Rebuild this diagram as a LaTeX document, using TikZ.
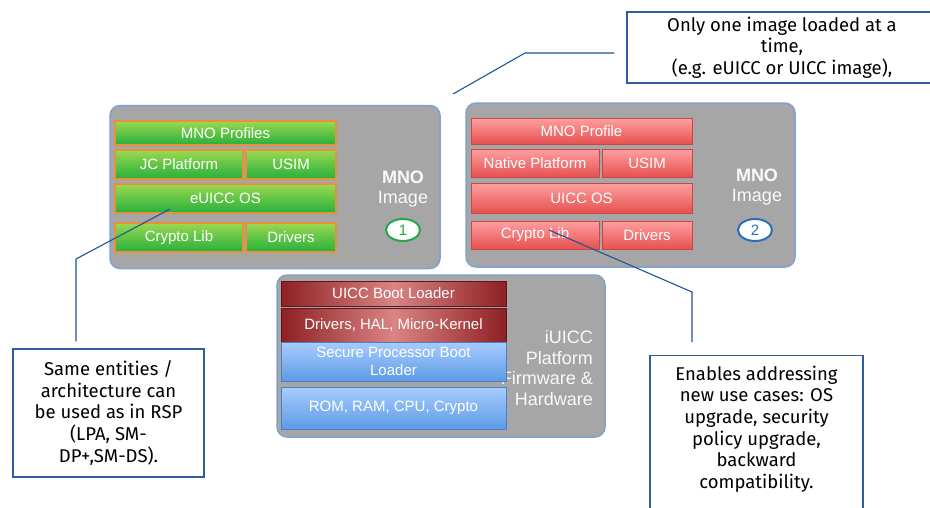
\documentclass[tikz,border=0pt]{standalone}
\usepackage{fontspec}
\setmainfont{Liberation Sans}
\newfontfamily\notefont{Fira Sans}
\usetikzlibrary{positioning,shapes.geometric}

\definecolor{panelgray}{HTML}{A6A6A6}
\definecolor{panelrim}{HTML}{7FA3D0}
\definecolor{greentop}{HTML}{9CD850}
\definecolor{greenbot}{HTML}{25B03C}
\definecolor{greenrim}{HTML}{E8903A}
\definecolor{redtop}{HTML}{FFA0A0}
\definecolor{redbot}{HTML}{E65050}
\definecolor{redrim}{HTML}{C84848}
\definecolor{darkred}{HTML}{8E2024}
\definecolor{midred}{HTML}{DA8484}
\definecolor{bluetop}{HTML}{A9CCFF}
\definecolor{bluebot}{HTML}{5C9BE6}
\definecolor{bluerim}{HTML}{4A80C8}
\definecolor{noterim}{HTML}{2E5C9E}
\definecolor{noteline}{HTML}{1F5596}
\definecolor{one}{HTML}{22A848}
\definecolor{two}{HTML}{2A6EBB}

\tikzset{
  panel/.style={draw=panelrim, line width=1.5pt, fill=panelgray, rounded corners=10pt, inner sep=0pt},
  layer/.style={inner sep=0pt, text=white, font=\fontsize{15}{16}\selectfont},
  greenlayer/.style={layer, draw=greenrim, line width=1.2pt, top color=greentop, bottom color=greenbot},
  redlayer/.style={layer, draw=redrim, line width=0.8pt, top color=redtop, bottom color=redbot},
  darklayer/.style={layer, draw=darkred!70!black, line width=0.6pt, left color=darkred, right color=darkred,
    middle color=midred},
  bluelayer/.style={layer, draw=bluerim, line width=0.8pt, top color=bluetop, bottom color=bluebot, align=center,
    font=\fontsize{15}{18}\selectfont},
  tag/.style={text=white!95!gray, font=\fontsize{18}{20}\selectfont, inner sep=0pt},
  badge/.style={ellipse, draw, line width=2pt, fill=white, minimum width=34pt, minimum height=22pt, inner sep=0pt,
    font=\fontsize{15}{15}\selectfont},
  note/.style={draw=noterim, line width=1.2pt, fill=white, align=center, inner sep=0pt,
    font=\notefont\fontsize{18.5}{21.7}\selectfont},
  callout/.style={draw=noteline, line width=1.1pt}
}

\begin{document}
\begin{tikzpicture}[x=1pt, y=-1pt]
  \useasboundingbox (0,0) rectangle (930,507);
  \clip (0,0) rectangle (930,507);

  % MNO image 1 (eUICC)
  \node[panel, minimum width=330pt, minimum height=163pt] (left) at (275,187) {};
  \node[greenlayer, minimum width=221pt, minimum height=24pt] (mnoprof) at (225.5,133) {MNO Profiles};
  \node[greenlayer, minimum width=128pt, minimum height=29pt] (jcplat) at (179,164.5) {JC Platform};
  \node[greenlayer, minimum width=90pt, minimum height=29pt] (usimA) at (291,164.5) {USIM};
  \node[greenlayer, minimum width=221pt, minimum height=29pt] (euiccos) at (225.5,198.5) {eUICC OS};
  \node[greenlayer, minimum width=128pt, minimum height=29pt] (cryptoA) at (179,237.5) {Crypto Lib};
  \node[greenlayer, minimum width=90pt, minimum height=29pt] (driversA) at (291,237.5) {Drivers};
  \node[tag, font=\bfseries\fontsize{18}{20}\selectfont] (mnoA) at (403,177) {MNO};
  \node[tag] (imageA) at (403,199) {Image};
  \node[badge, draw=one, text=one] (oneA) at (403,230) {1};

  % MNO image 2 (UICC)
  \node[panel, minimum width=329pt, minimum height=164pt] (right) at (630.5,185) {};
  \node[redlayer, minimum width=221pt, minimum height=26pt] (mnoprofB) at (581.5,131) {MNO Profile};
  \node[redlayer, minimum width=128pt, minimum height=28pt] (native) at (535,163) {Native Platform};
  \node[redlayer, minimum width=90pt, minimum height=28pt] (usimB) at (647,163) {USIM};
  \node[redlayer, minimum width=221pt, minimum height=30pt] (uiccos) at (581.5,198) {UICC OS};
  \node[redlayer, minimum width=128pt, minimum height=28pt] (cryptoB) at (535,235) {Crypto Lib};
  \node[redlayer, minimum width=90pt, minimum height=28pt] (driversB) at (647,235) {Drivers};
  \node[tag, font=\bfseries\fontsize{18}{20}\selectfont] (mnoB) at (757,175) {MNO};
  \node[tag] (imageB) at (757,197) {Image};
  \node[badge, draw=two, text=two] (twoB) at (755,230) {2};

  % iUICC platform
  \node[panel, minimum width=328pt, minimum height=162pt] (base) at (441,356) {};
  \node[tag, anchor=east, align=right, font=\fontsize{18}{20.5}\selectfont] (iuicc) at (593,368)
    {iUICC\\Platform\\Firmware \&\\Hardware};
  \node[darklayer, minimum width=225pt, minimum height=25pt] (boot) at (393.5,293.5) {UICC Boot Loader};
  \node[darklayer, minimum width=225pt, minimum height=34pt] (hal) at (393.5,325) {Drivers, HAL, Micro-Kernel};
  \node[bluelayer, minimum width=225pt, minimum height=39pt] (secboot) at (393.5,361.5) {Secure Processor Boot\\Loader};
  \node[bluelayer, minimum width=225pt, minimum height=42pt] (rom) at (393.5,408) {ROM, RAM, CPU, Crypto};

  % callouts
  \node[note, minimum width=310pt, minimum height=71pt] (onetime) at (782,47.5)
    {Only one image loaded at a\\time,\\(e.g. eUICC or UICC image),};
  \node[note, minimum width=191pt, minimum height=128pt] (entities) at (108.5,413)
    {Same entities /\\architecture can\\be used as in RSP\\(LPA, SM-\\DP+,SM-DS).};
  \node[note, minimum width=213pt, minimum height=170pt, anchor=north] (usecase) at (756.5,355) {};
  \node[note, draw=none, fill=none, below=10pt of usecase.north] (usecasetext)
    {Enables addressing\\new use cases: OS\\upgrade, security\\policy upgrade,\\backward\\compatibility.};

  \coordinate (tipA) at (453,94);
  \coordinate (bendA) at (525,53);
  \coordinate (tipB) at (170,209);
  \coordinate (bendB) at (76,259);
  \coordinate (tipC) at (549,230);
  \coordinate (bendC) at (692,292);
  \draw[callout, shorten >=12pt] (tipA) -- (bendA) -- (bendA -| onetime.west);
  \draw[callout, shorten >=7pt] (tipB) -- (bendB) -- (bendB |- entities.north);
  \draw[callout, shorten >=13pt] (tipC) -- (bendC) -- (bendC |- usecase.north);
\end{tikzpicture}
\end{document}
